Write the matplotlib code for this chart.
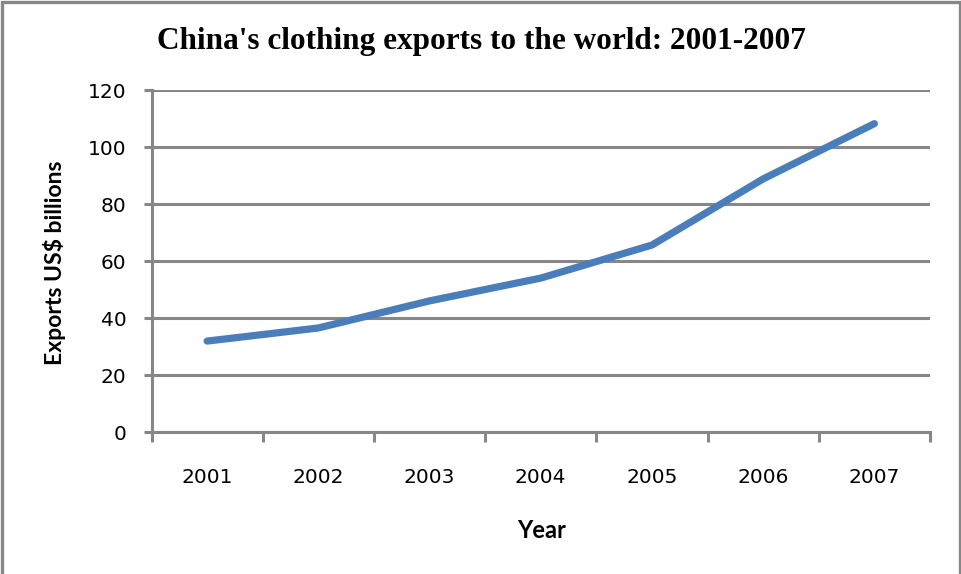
import matplotlib
matplotlib.use('agg')
import matplotlib.pyplot as plt
from matplotlib.patches import Rectangle
from matplotlib.ticker import FixedLocator, NullFormatter

# export values, US$ billions
years = ['2001', '2002', '2003', '2004', '2005', '2006', '2007']
exports = [32.0, 36.6, 46.1, 54.1, 65.7, 88.9, 108.3]
y_ticks = [0, 20, 40, 60, 80, 100, 120]

grey = '#878787'
blue = '#4a7ebb'

fig = plt.figure(figsize=(9.62, 5.74), dpi=100)
ax = fig.add_axes([0.1575, 0.2469, 0.8092, 0.5958])

x = list(range(len(years)))
ax.plot(x, exports, color=blue, linewidth=5.2, solid_capstyle='round',
        solid_joinstyle='round', zorder=3)

ax.set_xlim(-0.5, len(years) - 0.5)
ax.set_ylim(0, 120)
ax.set_yticks(y_ticks)
ax.set_yticklabels([str(v) for v in y_ticks])
ax.yaxis.grid(True, color=grey, linewidth=2.2)
ax.set_axisbelow(True)

# category boundaries get the tick marks, labels sit between them
ax.xaxis.set_major_locator(FixedLocator([i - 0.5 for i in range(len(years) + 1)]))
ax.xaxis.set_major_formatter(NullFormatter())
ax.xaxis.set_minor_locator(FixedLocator(x))
ax.set_xticklabels(years, minor=True)
ax.tick_params(axis='x', which='major', length=7, width=2.2, color=grey)
ax.tick_params(axis='x', which='minor', length=0, pad=26, labelsize=14.5)
ax.tick_params(axis='y', length=6, width=2.2, color=grey, pad=12, labelsize=14.5)

for side in ['top', 'right']:
    ax.spines[side].set_visible(False)
for side in ['left', 'bottom']:
    ax.spines[side].set_color(grey)
    ax.spines[side].set_linewidth(2.2)

fig.text(0.5, 1 - 42 / 574, "China's clothing exports to the world: 2001-2007",
         ha='center', va='center', fontsize=22.5, fontweight='bold',
         family='Liberation Serif')
fig.text(542 / 962, 1 - 530 / 574, 'Year', ha='center', va='center',
         fontsize=17, fontweight='bold', family='Lato')
fig.text(55 / 962, 1 - 263 / 574, 'Exports US$ billions', ha='center',
         va='center', rotation=90, fontsize=16.5, fontweight='bold', family='Lato')

# chart border, open at the bottom edge
fig.patches.append(Rectangle((0.002, -0.05), 0.996, 1.046, transform=fig.transFigure,
                             fill=False, edgecolor=grey, linewidth=2.4))

fig.savefig('out.png', dpi=100)
